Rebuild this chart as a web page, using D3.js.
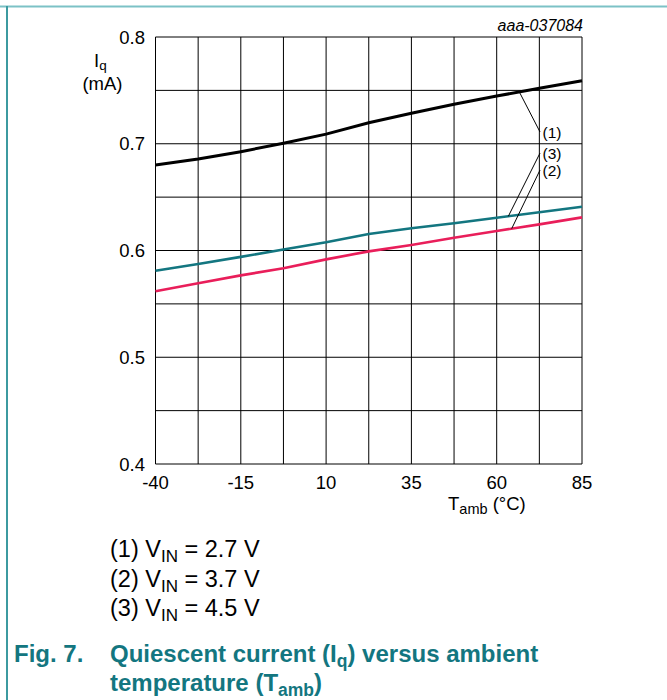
<!DOCTYPE html>
<html>
<head>
<meta charset="utf-8">
<script src="https://cdn.jsdelivr.net/npm/d3@7"></script>
<style>
    body { margin: 0; background: #fff; }
    svg { display: block; font-family: "Liberation Sans", Arial, sans-serif; }
</style>
</head>
<body>
<svg width="667" height="700"></svg>
<script>
// values
const temps = [-40, -27.5, -15, -2.5, 10, 22.5, 35, 47.5, 60, 72.5, 85];
const iq1 = [0.680, 0.6857, 0.6926, 0.7004, 0.709, 0.7197, 0.7285, 0.737, 0.7447, 0.752, 0.759]; // VIN 2.7 V
const iq2 = [0.5618, 0.5693, 0.5767, 0.5833, 0.5917, 0.5992, 0.6052, 0.612, 0.6183, 0.6245, 0.631]; // VIN 3.7 V
const iq3 = [0.5811, 0.5874, 0.594, 0.6009, 0.6077, 0.6155, 0.6208, 0.6255, 0.6307, 0.6358, 0.641]; // VIN 4.5 V
const xTicks = [-40, -15, 10, 35, 60, 85];
const yTicks = [0.4, 0.5, 0.6, 0.7, 0.8];
const legendRows = [["(1) V", "IN", " = 2.7 V"], ["(2) V", "IN", " = 3.7 V"], ["(3) V", "IN", " = 4.5 V"]];
// callouts: [label, curve point temp, value, label end temp, value]
const callouts = [["(1)", 66.8, 0.7475, 72.7, 0.711], ["(3)", 63.4, 0.632, 72.7, 0.6913], ["(2)", 64.4, 0.6205, 72.7, 0.6754]];

const teal = "#137680";
let svg = d3.select("svg");

// page frame
svg.append("line").attr("x1", 0).attr("x2", 667).attr("y1", 6.5).attr("y2", 6.5)
    .attr("stroke", "#7cc2c6").attr("stroke-width", 2);
svg.append("line").attr("x1", 7).attr("x2", 7).attr("y1", 6).attr("y2", 700)
    .attr("stroke", "#3c9aa0").attr("stroke-width", 2);

let x = d3.scaleLinear().domain([-40, 85]).range([155.5, 582]);
let y = d3.scaleLinear().domain([0.4, 0.8]).range([464, 37]);

// grid
let g = svg.append("g");
g.selectAll("line.v").data(d3.range(-40, 85.1, 12.5)).enter().append("line")
    .attr("x1", d => x(d)).attr("x2", d => x(d)).attr("y1", y(0.4)).attr("y2", y(0.8))
    .attr("stroke", "#000").attr("stroke-width", 1);
g.selectAll("line.h").data(d3.range(0.4, 0.8001, 0.05)).enter().append("line")
    .attr("x1", x(-40)).attr("x2", x(85)).attr("y1", d => y(d)).attr("y2", d => y(d))
    .attr("stroke", "#000").attr("stroke-width", 1);

// tick labels
svg.selectAll("text.xt").data(xTicks).enter().append("text")
    .attr("x", d => x(d)).attr("y", 489).attr("text-anchor", "middle")
    .attr("font-size", 18.5).text(d => d);
svg.selectAll("text.yt").data(yTicks).enter().append("text")
    .attr("x", 145).attr("y", d => y(d) + 6.5).attr("text-anchor", "end")
    .attr("font-size", 18.5).text(d => d.toFixed(1));

// axis titles
let xt = svg.append("text").attr("x", 448).attr("y", 510).attr("font-size", 18.5);
xt.append("tspan").text("T");
xt.append("tspan").attr("font-size", 14.5).attr("dy", 4).text("amb");
xt.append("tspan").attr("dy", -4).text(" (°C)");

let yt = svg.append("text").attr("x", 94).attr("y", 67).attr("font-size", 18.5);
yt.append("tspan").text("I");
yt.append("tspan").attr("font-size", 13.5).attr("dy", 3).text("q");
svg.append("text").attr("x", 102.5).attr("y", 90).attr("text-anchor", "middle")
    .attr("font-size", 18.5).text("(mA)");

svg.append("text").attr("x", 583).attr("y", 31).attr("text-anchor", "end")
    .attr("font-size", 16).attr("font-style", "italic").text("aaa-037084");

// curves
let line = d3.line().x(d => x(d[0])).y(d => y(d[1]));
const series = [[iq1, "#000", 3], [iq3, teal, 2.6], [iq2, "#e91e5a", 2.6]];
series.forEach(function (s) {
    svg.append("path").datum(temps.map((t, i) => [t, s[0][i]]))
        .attr("d", line).attr("fill", "none")
        .attr("stroke", s[1]).attr("stroke-width", s[2]);
});

// callouts
callouts.forEach(function (c) {
    svg.append("line").attr("x1", x(c[1])).attr("y1", y(c[2]))
        .attr("x2", x(c[3])).attr("y2", y(c[4]))
        .attr("stroke", "#000").attr("stroke-width", 1);
    svg.append("text").attr("x", x(c[3]) + 2.5).attr("y", y(c[4]) + 5.5)
        .attr("font-size", 15.5).text(c[0]);
});

// legend
legendRows.forEach(function (r, i) {
    let t = svg.append("text").attr("x", 110).attr("y", 557 + i * 29.5).attr("font-size", 23.5);
    t.append("tspan").text(r[0]);
    t.append("tspan").attr("font-size", 17).attr("dy", 5).text(r[1]);
    t.append("tspan").attr("dy", -5).text(r[2]);
});

// caption
svg.append("text").attr("x", 14).attr("y", 662).attr("font-size", 24)
    .attr("font-weight", "bold").attr("fill", teal).text("Fig. 7.");
let c1 = svg.append("text").attr("x", 110).attr("y", 662).attr("font-size", 24)
    .attr("font-weight", "bold").attr("fill", teal);
c1.append("tspan").text("Quiescent current (I");
c1.append("tspan").attr("font-size", 17.5).attr("dy", 5).text("q");
c1.append("tspan").attr("dy", -5).text(") versus ambient");
let c2 = svg.append("text").attr("x", 110).attr("y", 691).attr("font-size", 24)
    .attr("font-weight", "bold").attr("fill", teal);
c2.append("tspan").text("temperature (T");
c2.append("tspan").attr("font-size", 17.5).attr("dy", 5).text("amb");
c2.append("tspan").attr("dy", -5).text(")");
</script>
</body>
</html>
